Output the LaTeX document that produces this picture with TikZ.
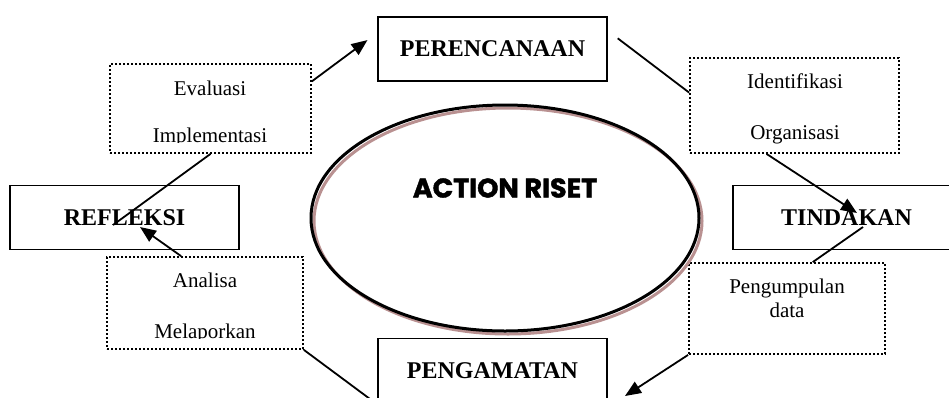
\documentclass[tikz,border=0pt]{standalone}
\usepackage{fontspec}
\setmainfont{Liberation Serif}
\newfontfamily\titlefont[BoldFeatures={FakeBold=1.5}]{Poppins}
\usetikzlibrary{shapes.geometric,arrows.meta}
\definecolor{shadowc}{RGB}{185,145,145}
\begin{document}
\begin{tikzpicture}[x=1pt,y=-1pt,
  solidbox/.style={draw, line width=1.5pt, inner sep=0pt, minimum width=229pt, minimum height=64pt, font=\fontsize{24}{28}\selectfont\bfseries},
  dotbox/.style={draw, line width=1.8pt, dash pattern=on 1.8pt off 2.2pt, inner sep=0pt},
  txt/.style={anchor=base, inner sep=0pt, font=\fontsize{21}{25}\selectfont},
  conn/.style={line width=1.8pt},
  arr/.style={conn, -{Triangle[length=16pt,width=13pt]}},
  ringstyle/.style={ellipse, line width=3pt, minimum width=388pt, minimum height=226pt, inner sep=0pt}
]
\useasboundingbox (0,0) rectangle (949,397);

% main boxes
\node[solidbox] (per) at (492.5,49) {PERENCANAAN};
\node[solidbox] (ref) at (124.5,217.5) {REFLEKSI};
\node[solidbox, minimum width=227pt] (tin) at (846.5,217.5) {TINDAKAN};
\node[solidbox] (pen) at (492.5,370.5) {PENGAMATAN};

% dotted boxes
\node[dotbox, minimum width=201pt, minimum height=89pt] (eva) at (210.5,108.5) {};
\begin{scope}
\clip (110,64) rectangle (311,142.5);
\node[txt] (evat1) at (210,95) {Evaluasi};
\node[txt] (evat2) at (210,142) {Implementasi};
\end{scope}

\node[dotbox, minimum width=209pt, minimum height=95pt] (idf) at (794.5,105.5) {};
\node[txt] (idft1) at (795,88) {Identifikasi};
\node[txt] (idft2) at (795,139) {Organisasi};

\node[dotbox, minimum width=196pt, minimum height=92pt] (ana) at (205,303) {};
\begin{scope}
\clip (107,257) rectangle (303,338.5);
\node[txt] (anat1) at (205,287) {Analisa};
\node[txt] (anat2) at (205,338) {Melaporkan};
\end{scope}

\node[dotbox, minimum width=196pt, minimum height=91pt] (pgm) at (787,308.5) {};
\node[txt] (pgmt1) at (787,293) {Pengumpulan};
\node[txt] (pgmt2) at (787,317) {data};

% central ellipse
\node[ringstyle, draw=shadowc] (ellsh) at (508,221) {};
\node[ringstyle, draw=black] (ell) at (505,218) {};
\node[font=\titlefont\fontsize{27}{30}\selectfont\bfseries, inner sep=0pt] (title) at (505,188) {ACTION RISET};

% free ends
\coordinate (t1) at (857,213);
\coordinate (t2) at (863,227);
\coordinate (p1) at (625,396);
\coordinate (p2) at (370,399);
\coordinate (r1) at (140,227);
\coordinate (r2) at (113,225);

% connectors
\draw[arr, shorten >=12.2pt] (eva.15.8) -- (per.172);
\draw[conn, shorten <=12.5pt] (per.9.2) -- (idf.173.2);
\draw[arr] (idf.240.8) -- (t1);
\draw[conn] (pgm.61.2) -- (t2);
\draw[arr] (pgm.south west) -- (p1);
\draw[conn] (ana.south east) -- (p2);
\draw[arr] (ana.117.6) -- (r1);
\draw[conn] (eva.south) -- (r2);
\end{tikzpicture}
\end{document}
